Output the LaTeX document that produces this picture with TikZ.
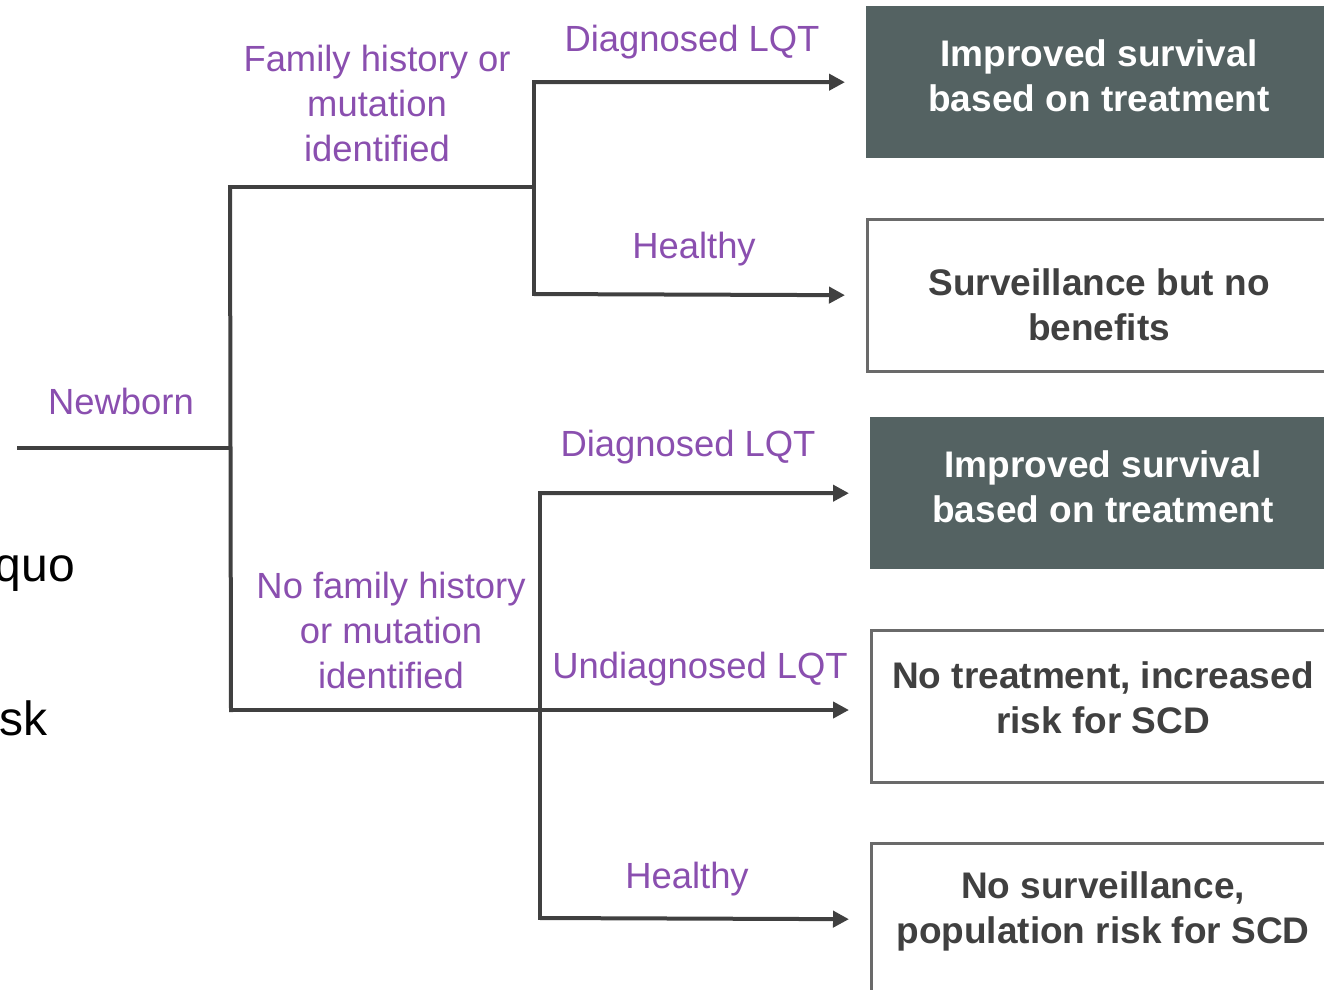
\documentclass[tikz,border=0pt]{standalone}
\usepackage{fontspec}
\setmainfont{Liberation Sans}
\usetikzlibrary{arrows.meta}
\definecolor{lbl}{HTML}{8A4FAF}
\definecolor{dk}{HTML}{546262}
\definecolor{ln}{HTML}{404040}
\definecolor{bd}{HTML}{6A6A6A}
\definecolor{tx}{HTML}{404040}
\tikzset{
  lbltext/.style={text=lbl, font=\fontsize{36.4}{45}\selectfont, align=center, inner sep=0pt},
  boxtext/.style={font=\fontsize{37}{45}\selectfont\bfseries, align=center, inner sep=0pt},
  darkbox/.style={fill=dk, draw=none, minimum width=470pt, minimum height=152pt, anchor=north west, inner sep=0pt},
  linebox/.style={fill=white, draw=bd, line width=2.5pt, minimum width=470pt, minimum height=152pt, anchor=north west, inner sep=0pt},
  conn/.style={draw=ln, line width=4pt, line cap=rect},
  arr/.style={conn, line cap=butt, -{Triangle[length=16pt,width=16pt]}, shorten >=21pt},
  side/.style={font=\fontsize{48}{56}\selectfont, text=black, inner sep=0pt}
}
\begin{document}
\begin{tikzpicture}[x=1pt,y=-1pt]
\useasboundingbox (0,0) rectangle (1324,989);
% boxes
\node[darkbox] (b1) at (866,6) {};
\node[linebox] (b2) at (866,218) {};
\node[darkbox] (b3) at (870,417) {};
\node[linebox] (b4) at (870,629) {};
\node[linebox] (b5) at (870,842) {};
\node[boxtext, text=white] (t1) at (1099,76) {Improved survival\\based on treatment};
\node[boxtext, text=tx] (t2) at (1099,305) {Surveillance but no\\benefits};
\node[boxtext, text=white] (t3) at (1103,487) {Improved survival\\based on treatment};
\node[boxtext, text=tx] (t4) at (1103,698) {No treatment, increased\\risk for SCD};
\node[boxtext, text=tx] (t5) at (1103,911) {No surveillance,\\population risk for SCD};
% side text (cut off at the left edge, as in the reference)
\node[side, anchor=base east] (q) at (75,581) {quo};
\node[side, anchor=base east] (r) at (48,735) {sk};
% coordinates
\coordinate (s) at (19,448);
\coordinate (n) at (230,448);
\coordinate (top) at (230,187);
\coordinate (bot) at (231,710);
\coordinate (u) at (534,187);
\coordinate (ua) at (534,82);
\coordinate (ub) at (534,294);
\coordinate (la) at (540,493);
\coordinate (lb) at (540,918);
% connectors
\draw[conn] (s) -- (n);
\draw[conn] (top) -- (bot);
\draw[conn] (top) -- (u);
\draw[conn] (ua) -- (ub);
\draw[conn] (la) -- (lb);
\draw[arr] (ua) -- (b1.west);
\draw[arr] (ub) -- (b2.west);
\draw[arr] (la) -- (b3.west);
\draw[arr] (bot) -- (b4.west |- bot);
\draw[arr] (lb) -- (b5.west);
% labels
\node[lbltext] (newborn) at (121,401) {Newborn};
\node[lbltext] (fh) at (377,103) {Family history or\\mutation\\identified};
\node[lbltext] (nfh) at (391,630) {No family history\\or mutation\\identified};
\node[lbltext] (d1) at (692,42) {Diagnosed LQT};
\node[lbltext] (h1) at (694,249) {Healthy};
\node[lbltext] (d2) at (688,447) {Diagnosed LQT};
\node[lbltext] (ud) at (700,669) {Undiagnosed LQT};
\node[lbltext] (h2) at (687,879) {Healthy};
\end{tikzpicture}
\end{document}
